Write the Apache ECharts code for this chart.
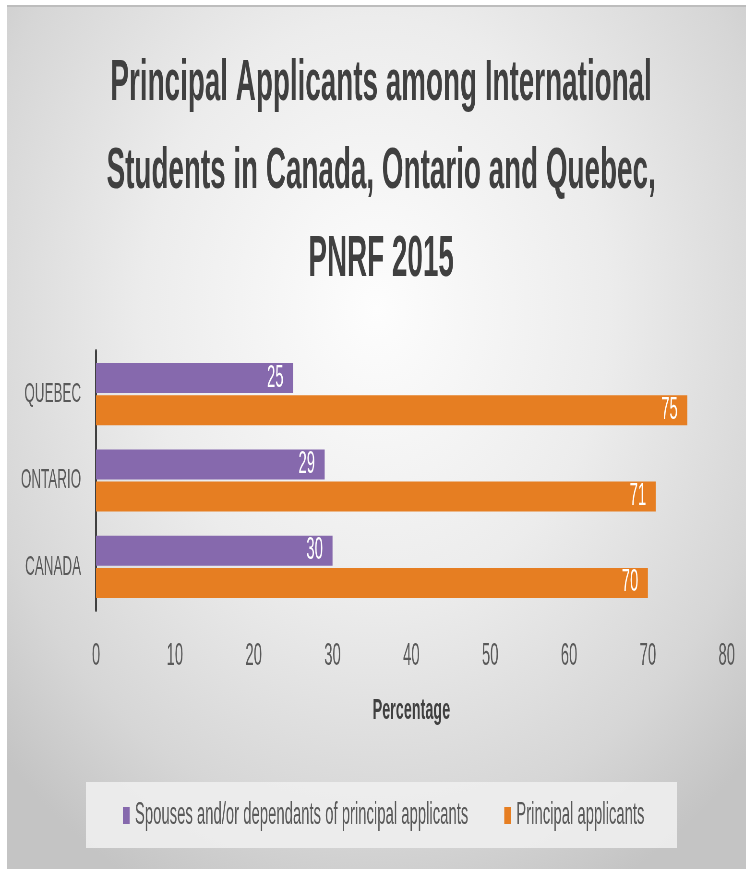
<!DOCTYPE html>
<html>
<head>
<meta charset="utf-8">
<script src="https://cdn.jsdelivr.net/npm/echarts@6/dist/echarts.min.js"></script>
<style>
  html, body { margin: 0; padding: 0; background: #ffffff; width: 746px; height: 869px; overflow: hidden; }
  #bg { position: absolute; left: 7px; top: 5px; width: 739px; height: 864px;
        border-top: 2px solid #bdbdbd; box-sizing: border-box;
        background: radial-gradient(ellipse 70% 75% at 50% 35%, #fdfdfd 0%, #ececec 45%, #d6d6d6 80%, #c4c4c4 100%); }
  #chart { position: absolute; left: 0; top: 0; width: 1554px; height: 869px;
           transform: scaleX(0.48); transform-origin: 0 0; }
</style>
</head>
<body>
<div id="bg"></div>
<div id="chart"></div>
<script>
// ---- data ----
const categories = ['CANADA', 'ONTARIO', 'QUEBEC'];
const spousesValues = [30, 29, 25];
const principalValues = [70, 71, 75];
const seriesNames = ['Spouses and/or dependants of principal applicants', 'Principal applicants'];
const xTicks = [0, 10, 20, 30, 40, 50, 60, 70, 80];
const titleLines = ['Principal Applicants among International', 'Students in Canada, Ontario and Quebec,', 'PNRF 2015'];
const axisTitle = 'Percentage';

const FONT = '"Liberation Sans", Arial, sans-serif';
const chart = echarts.init(document.getElementById('chart'), null, { renderer: 'canvas' });

chart.setOption({
  backgroundColor: 'transparent',
  animation: false,
  textStyle: { fontFamily: FONT },
  title: {
    text: titleLines.join('\n'),
    left: 794, top: 40, textAlign: 'center', padding: 0,
    textStyle: { fontFamily: FONT, fontSize: 58, fontWeight: 'bold', color: '#404040', lineHeight: 88 }
  },
  graphic: [{
    type: 'rect', left: 179, top: 782, z: -1,
    shape: { width: 1231, height: 66 },
    style: { fill: 'rgba(238,238,238,0.9)' }
  }],
  legend: {
    data: seriesNames,
    left: 256, top: 800, padding: 0,
    itemWidth: 14, itemHeight: 17, itemGap: 75,
    icon: 'rect',
    textStyle: { fontFamily: FONT, fontSize: 31, color: '#595959', padding: [0, 0, 0, 6] }
  },
  grid: { left: 200, right: 40, top: 351, bottom: 259, containLabel: false },
  xAxis: {
    type: 'value', min: xTicks[0], max: xTicks[xTicks.length - 1], interval: 10,
    axisLine: { show: false }, axisTick: { show: false }, splitLine: { show: false },
    axisLabel: { fontFamily: FONT, fontSize: 31, color: '#595959', margin: 31 },
    name: axisTitle, nameLocation: 'middle', nameGap: 86,
    nameTextStyle: { fontFamily: FONT, fontSize: 30, fontWeight: 'bold', color: '#404040' }
  },
  yAxis: {
    type: 'category', data: categories,
    axisLine: { show: true, lineStyle: { color: '#404040', width: 4 } },
    axisTick: { show: false },
    axisLabel: { fontFamily: FONT, fontSize: 28, color: '#595959', margin: 31 }
  },
  series: [
    {
      name: seriesNames[0], type: 'bar', data: spousesValues,
      barWidth: 30, barGap: '7%',
      itemStyle: { color: '#8669ad' },
      label: { show: true, position: 'insideRight', distance: 20, color: '#ffffff', fontSize: 31, fontFamily: FONT }
    },
    {
      name: seriesNames[1], type: 'bar', data: principalValues,
      barWidth: 30, barGap: '7%',
      itemStyle: { color: '#e67e22' },
      label: { show: true, position: 'insideRight', distance: 20, color: '#ffffff', fontSize: 31, fontFamily: FONT }
    }
  ]
});
</script>
</body>
</html>
